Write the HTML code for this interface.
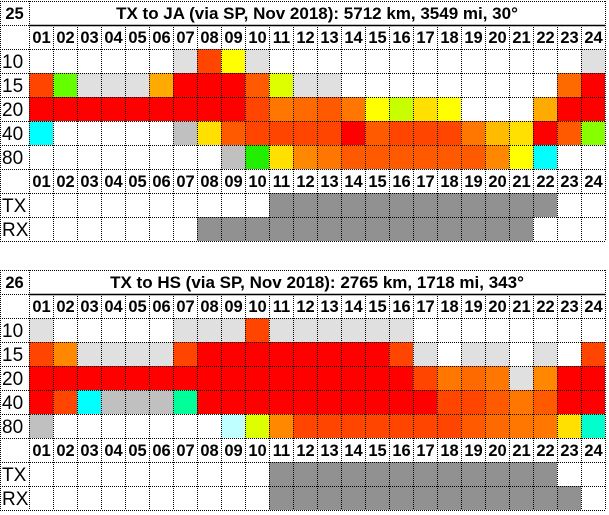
<!DOCTYPE html>
<html><head><meta charset="utf-8">
<style>
html,body{margin:0;padding:0;background:#fff;width:609px;height:515px;overflow:hidden}
svg{display:block}
text{font-family:"Liberation Sans",sans-serif}
</style></head>
<body>
<svg id="chart" width="609" height="515"></svg>
<script>
const hours = ["01","02","03","04","05","06","07","08","09","10","11","12","13","14","15","16","17","18","19","20","21","22","23","24"];
const bands = ["10","15","20","40","80"];
const titles1 = {num:"25", title:"TX to JA (via SP, Nov 2018): 5712 km, 3549 mi, 30°"};
const titles2 = {num:"26", title:"TX to HS (via SP, Nov 2018): 2765 km, 1718 mi, 343°"};
const palette = {w:"#ffffff", l:"#e0e0e0", s:"#c0c0c0", g:"#919191", R:"#ff0000", O:"#ff4500", P:"#ff5a00", Q:"#ff6a00", T:"#ff7700", U:"#ff8800", A:"#ffaa00", B:"#ffbb00", Y:"#ffff00", E:"#ffe000", V:"#ddff00", G:"#66ff00", H:"#22ee00", K:"#88ff00", L:"#c8ff00", C:"#00ffff", M:"#00ff99", N:"#00ffcc", Z:"#c0ffff"};
const t1_10 = "wwwwwwlOYlwwwwwwwwwwwwwl";
const t1_15 = "OGlllARRRPVllwwwwwwwwwQR";
const t1_20 = "RRRRRRRRROTQPTYLEYwwwARR";
const t1_40 = "CwwwwwsEPOOOORPOOOTBERPK";
const t1_80 = "wwwwwwwwsHEUTPPPPPPUYCww";
const t1_tx = "wwwwwwwwwwggggggggggggww";
const t1_rx = "wwwwwwwggggggggggggggwww";
const t2_10 = "lwwwwwlllOllllllwwwwwwww";
const t2_15 = "OUllllORRRRRRRROlwllwlwO";
const t2_20 = "RRRRRRRRRRRRRRRROTQTlURR";
const t2_40 = "ROCsssMRRRRRRRRRROOPTPRR";
const t2_80 = "swwwwwwwZVUOOOOOOOPQTTEN";
const t2_tx = "wwwwwwwwwwggggggggggggww";
const t2_rx = "wwwwwwwwwwgggggggggggggw";

const svg = document.getElementById('chart');
const NS = "http://www.w3.org/2000/svg";
const X0 = 29, CW = 24, RH = 24;
function colX(i){ return X0 + i*CW; }
function mk(tag, attrs){ const e=document.createElementNS(NS,tag); for(const k in attrs) e.setAttribute(k,attrs[k]); svg.appendChild(e); return e; }
function txt(x,y,s,size,bold,anchor){
  const t=mk('text',{x:x,y:y,'font-size':size,'font-weight':bold?'bold':'normal','text-anchor':anchor||'middle',fill:'#000'});
  t.textContent=s; return t;
}
function drawTable(top, head, rows, tx, rx, key){
  const n = txt(X0/2, top+18, head.num, 16.5, true);
  
  
  const tt = txt(X0 + 12*CW, top+18, head.title, 17, true);
  
  
  const hourRowsY = [top+RH, top+7*RH];
  hourRowsY.forEach((y,k)=>{
    hours.forEach((h,i)=>{
      const t = txt(colX(i)+CW/2+0.5, y+18, h, 16.5, true);
      
      
    });
  });
  const allRows = rows.map((r,i)=>({label:bands[i], data:r, y: top+(2+i)*RH}));
  allRows.push({label:"TX", data:tx, y: top+8*RH});
  allRows.push({label:"RX", data:rx, y: top+9*RH});
  allRows.forEach(row=>{
    const lab = txt(2, row.y+19, row.label, 19, false, 'start');
    
    
    for(let i=0;i<hours.length;i++){
      const c = palette[row.data[i]];
      if(c && c!=="#ffffff"){
        const r = mk('rect',{x:colX(i), y:row.y, width:CW, height:RH, fill:c});
        
        
      }
    }
  });
  const bottom = top+10*RH, right = colX(24);
  const dash = {stroke:'#000','stroke-width':1,'stroke-dasharray':'1,1',fill:'none'};
  for(let r=0;r<=10;r++){
    const y=top+r*RH+0.5;
    if(r===1){ mk('line',{x1:0,y1:y,x2:X0,y2:y,...dash}); mk('line',{x1:X0,y1:y,x2:right,y2:y,stroke:'#000','stroke-width':1.5}); continue; }
    mk('line',{x1:0,y1:y,x2:right+1,y2:y,...dash});
  }
  mk('line',{x1:0.5,y1:top,x2:0.5,y2:bottom,...dash});
  for(let i=0;i<=24;i++){
    const x=colX(i)+0.5;
    mk('line',{x1:x,y1:(i===0||i===24)?top:top+RH,x2:x,y2:bottom,...dash});
  }
}
drawTable(1, titles1, [t1_10,t1_15,t1_20,t1_40,t1_80], t1_tx, t1_rx, 'tx-to-ja');
drawTable(270, titles2, [t2_10,t2_15,t2_20,t2_40,t2_80], t2_tx, t2_rx, 'tx-to-hs');
</script>
</body></html>
